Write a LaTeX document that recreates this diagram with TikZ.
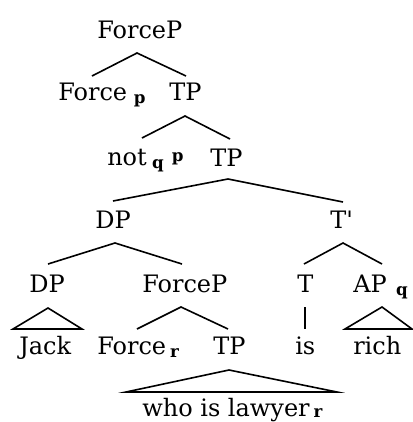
\documentclass[tikz,border=0pt]{standalone}
\usepackage{fontspec}
\setmainfont{DejaVu Serif}
% small bold index letters, lowered or raised
\newcommand\idxlo[1]{\raisebox{-2.5pt}{\fontsize{12.5}{14}\selectfont\bfseries #1}}
\newcommand\idxhi[1]{\raisebox{2.5pt}{\fontsize{12.5}{14}\selectfont\bfseries #1}}
\begin{document}
\begin{tikzpicture}[x=0.75pt,y=-0.75pt,
  lbl/.style={anchor=base west,inner sep=0pt,font=\fontsize{18}{21}\selectfont},
  branch/.style={line width=1.2pt,line join=miter}]
\useasboundingbox (0,0) rectangle (413,422);

% labels
\node[lbl] (fp0)  at (97,38)   {ForceP};
\node[lbl] (f1)   at (58,100)  {Force\hspace{5pt}\idxlo{p}};
\node[lbl] (tp1)  at (169,100) {TP};
\node[lbl] (neg)  at (107,165) {not\hspace{4pt}\idxlo{q}\hspace{6pt}\idxhi{p}};
\node[lbl] (tp2)  at (210,166) {TP};
\node[lbl] (dp1)  at (95,228)  {DP};
\node[lbl] (tbar) at (330,228) {T\textquotesingle};
\node[lbl] (dp2)  at (29,292)  {DP};
\node[lbl] (fp2)  at (142,292) {ForceP};
\node[lbl] (t)    at (297,292) {T};
\node[lbl] (ap)   at (353,292) {AP\hspace{7pt}\idxlo{q}};
\node[lbl] (jack) at (19,354)  {Jack};
\node[lbl] (f2)   at (97,354)  {Force\hspace{3pt}\idxlo{r}};
\node[lbl] (tp3)  at (213,354) {TP};
\node[lbl] (is)   at (295,354) {is};
\node[lbl] (rich) at (353,354) {rich};
\node[lbl] (who)  at (142,416) {who is lawyer\hspace{3pt}\raisebox{-1pt}{\fontsize{12.5}{14}\selectfont\bfseries r}};

% branch points
\coordinate (fp0-a) at (137,53);  \coordinate (f1-t) at (92,76);   \coordinate (tp1-t) at (186,76);
\coordinate (tp1-a) at (185,116); \coordinate (neg-t) at (142,138); \coordinate (tp2-t) at (230,139);
\coordinate (tp2-a) at (228,179); \coordinate (dp1-t) at (113,201); \coordinate (tbar-t) at (343,202);
\coordinate (dp1-a) at (115,243); \coordinate (dp2-t) at (48,264);  \coordinate (fp2-t) at (182,264);
\coordinate (tbar-a) at (343,243);\coordinate (t-t) at (304,264);   \coordinate (ap-t) at (382,264);
\coordinate (dp2-a) at (48,308);  \coordinate (dp2-l) at (13,329);  \coordinate (dp2-r) at (82,329);
\coordinate (fp2-a) at (181,307); \coordinate (f2-t) at (137,329);  \coordinate (tp3-t) at (228,329);
\coordinate (t-a) at (305,307);   \coordinate (is-t) at (305,329);
\coordinate (ap-a) at (382,307);  \coordinate (ap-l) at (345,329);  \coordinate (ap-r) at (412,329);
\coordinate (tp3-a) at (229,370); \coordinate (tp3-l) at (126,392); \coordinate (tp3-r) at (337,392);

% branches
\draw[branch] (f1-t) -- (fp0-a) -- (tp1-t);
\draw[branch] (neg-t) -- (tp1-a) -- (tp2-t);
\draw[branch] (dp1-t) -- (tp2-a) -- (tbar-t);
\draw[branch] (dp2-t) -- (dp1-a) -- (fp2-t);
\draw[branch] (t-t) -- (tbar-a) -- (ap-t);
\draw[branch] (f2-t) -- (fp2-a) -- (tp3-t);
\draw[branch] (t-a) -- (is-t);
% roofs
\draw[branch] (dp2-l) -- (dp2-a) -- (dp2-r) -- cycle;
\draw[branch] (ap-l) -- (ap-a) -- (ap-r) -- cycle;
\draw[branch] (tp3-l) -- (tp3-a) -- (tp3-r) -- cycle;
\end{tikzpicture}
\end{document}
